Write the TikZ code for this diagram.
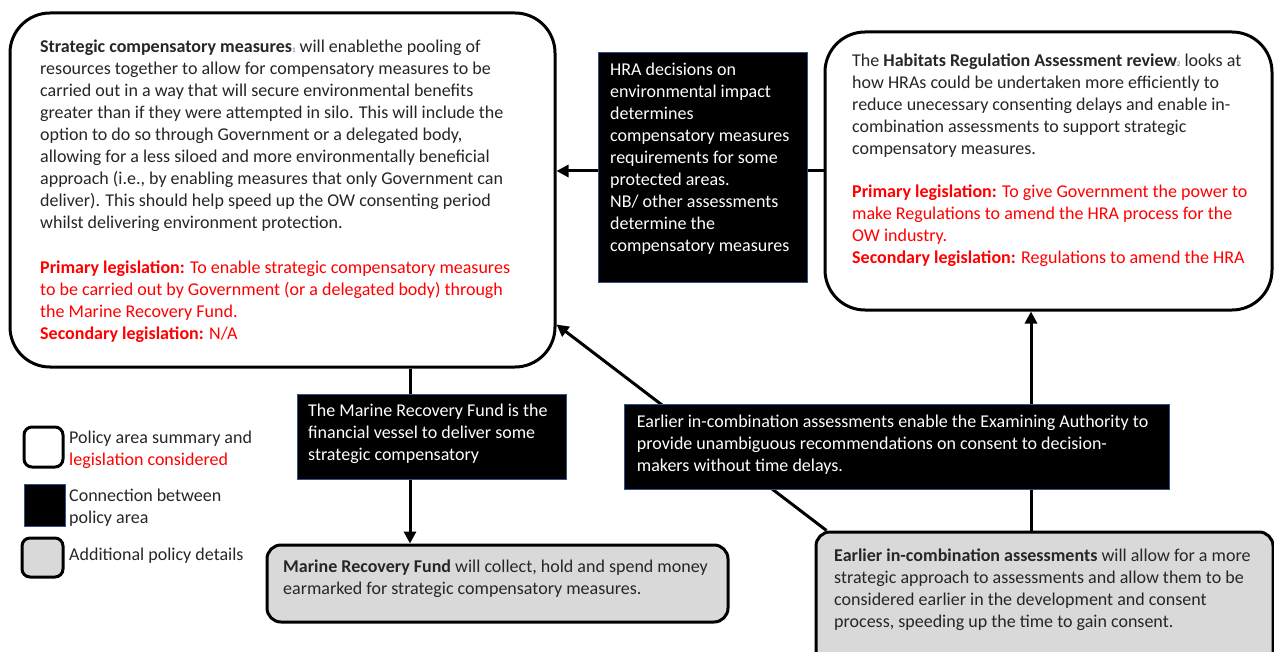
\documentclass[tikz,border=0pt]{standalone}
\usepackage{fontspec}
\setmainfont{Carlito}
\usetikzlibrary{arrows.meta,backgrounds}

\definecolor{bodytext}{HTML}{262626}
\definecolor{legred}{HTML}{FF0000}
\definecolor{detailgrey}{HTML}{D9D9D9}
\definecolor{linkedge}{HTML}{2F528F}
\definecolor{noteblue}{HTML}{4472C4}

\newcommand{\fnote}[1]{{\fontsize{7}{7}\selectfont\color{noteblue}#1}}

\tikzset{
  policybox/.style={draw, line width=3pt, rounded corners=40pt, fill=white, inner sep=0pt},
  linkbox/.style={draw=linkedge, line width=0.8pt, fill=black, inner sep=0pt},
  detailbox/.style={draw, line width=3pt, rounded corners=14pt, fill=detailgrey, inner sep=0pt},
  boxtext/.style={anchor=north west, inner sep=0pt, align=left, text=bodytext,
    font=\fontsize{18}{22}\selectfont, execute at begin node=\strut},
  legtext/.style={boxtext, text=legred},
  linktext/.style={boxtext, text=white},
  flowarrow/.style={line width=3pt, -{Triangle[length=12pt,width=12pt]}},
  flowline/.style={line width=3pt}
}

\begin{document}
\begin{tikzpicture}[x=1pt,y=-1pt]
	\useasboundingbox (0,0) rectangle (1274,652);
	
	\coordinate (maxis) at (410,0); % marine fund column
	\coordinate (eaxis) at (1031,0); % assessments column
	
	% policy areas
	\node[policybox, minimum width=545, minimum height=354] (scm) at (282.5,190) {};
	\node[policybox, minimum width=447, minimum height=278] (hrar) at (1048.5,171) {};
	
	% connections
	\node[linkbox, minimum width=209, minimum height=230] (hrad) at (702.5,167) {};
	\node[linkbox, minimum width=269, minimum height=85] (mrfl) at (431.5,436.5) {};
	\node[linkbox, minimum width=545, minimum height=85] (eial) at (896.5,446.5) {};
	
	% details
	\node[detailbox, minimum width=461, minimum height=77] (mrfd) at (497.5,583.5) {};
	\node[detailbox, minimum width=457, minimum height=140] (eiad) at (1044.5,602) {};
	
	% key
	\node[policybox, rounded corners=8pt, minimum width=39, minimum height=40] (keypol) at (43.5,447) {};
	\node[linkbox, minimum width=41, minimum height=42] (keylink) at (44.5,505) {};
	\node[detailbox, rounded corners=8pt, minimum width=41, minimum height=39] (keydet) at (42.5,557.5) {};
	
	\begin{pgfonlayer}{background}
		\draw[flowarrow] ([yshift=-4pt]hrad.west) -- ([yshift=-4pt]hrad.west -| scm.east);
		\draw[flowline] (hrar.west) -- (hrar.west -| hrad.east);
		\draw[flowarrow] (eaxis |- eial.north) -- (eaxis |- hrar.south);
		\draw[flowline] (eaxis |- eiad.north) -- (eaxis |- eial.south);
		\draw[flowline] (maxis |- scm.south) -- (maxis |- mrfl.north);
		\draw[flowarrow] (maxis |- mrfl.south) -- (maxis |- mrfd.north);
		\draw[flowarrow] ([xshift=12pt]eiad.north west) -- ([yshift=44pt]scm.south east);
	\end{pgfonlayer}
	
	\node[boxtext] (scmtext) at (40,39.5) {\textbf{Strategic compensatory measures}\fnote{1} will enablethe pooling of\\
		resources together to allow for compensatory measures to be\\
		carried out in a way that will secure environmental benefits\\
		greater than if they were attempted in silo. This will include the\\
		option to do so through Government or a delegated body,\\
		allowing for a less siloed and more environmentally beneficial\\
		approach (i.e., by enabling measures that only Government can\\
		deliver). This should help speed up the OW consenting period\\
		whilst delivering environment protection.};
	\node[legtext] (scmleg) at (40,260.5) {\textbf{Primary legislation:} To enable strategic compensatory measures\\
		to be carried out by Government (or a delegated body) through\\
		the Marine Recovery Fund.\\
		\textbf{Secondary legislation:} N/A};
	
	\node[boxtext] (hrartext) at (852,54) {The \textbf{Habitats Regulation Assessment review}\fnote{2} looks at\\
		how HRAs could be undertaken more efficiently to\\
		reduce unecessary consenting delays and enable in-\\
		combination assessments to support strategic\\
		compensatory measures.};
	\node[legtext] (hrarleg) at (852,185) {\textbf{Primary legislation:} To give Government the power to\\
		make Regulations to amend the HRA process for the\\
		OW industry.\\
		\textbf{Secondary legislation:} Regulations to amend the HRA};
	
	\node[linktext] (hradtext) at (610,63) {HRA decisions on\\
		environmental impact\\
		determines\\
		compensatory measures\\
		requirements for some\\
		protected areas.\\
		NB/ other assessments\\
		determine the\\
		compensatory measures};
	\node[linktext] (mrfltext) at (308,403.5) {The Marine Recovery Fund is the\\
		financial vessel to deliver some\\
		strategic compensatory};
	\node[linktext] (eialtext) at (636.7,415) {Earlier in-combination assessments enable the Examining Authority to\\
		provide unambiguous recommendations on consent to decision-\\
		makers without time delays.};
	
	\node[boxtext] (mrfdtext) at (283,559.5) {\textbf{Marine Recovery Fund} will collect, hold and spend money\\
		earmarked for strategic compensatory measures.};
	\node[boxtext] (eiadtext) at (834,549) {\textbf{Earlier in-combination assessments} will allow for a more\\
		strategic approach to assessments and allow them to be\\
		considered earlier in the development and consent\\
		process, speeding up the time to gain consent.};
	
	\node[boxtext] (keypoltext) at (69,428) {Policy area summary and};
	\node[legtext] (keypolleg) at (69,450) {legislation considered};
	\node[boxtext] (keylinktext) at (69,489) {Connection between\\policy area};
	\node[boxtext] (keydettext) at (69,545) {Additional policy details};
\end{tikzpicture}
\end{document}
